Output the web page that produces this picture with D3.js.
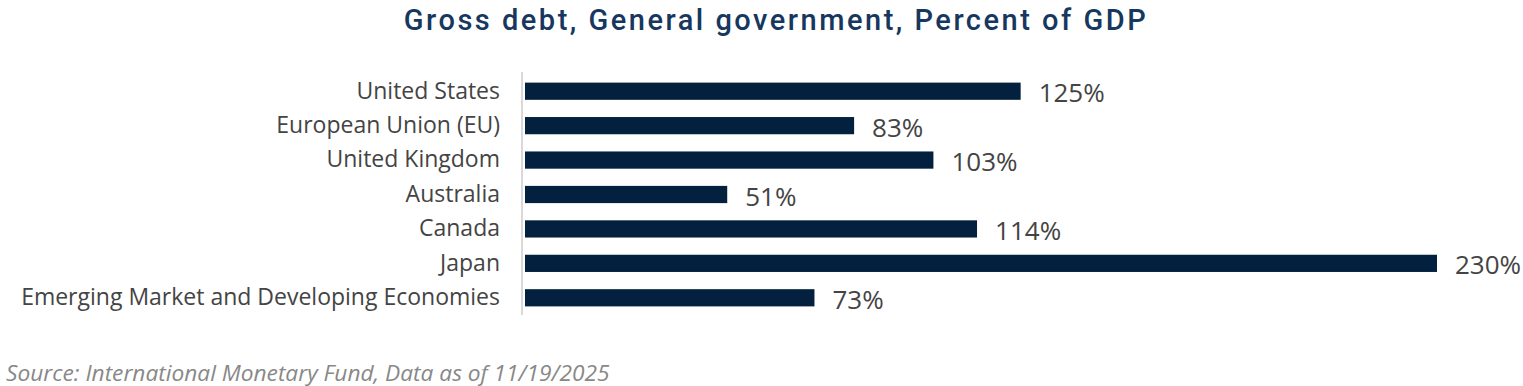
<!DOCTYPE html>
<html>
<head>
<meta charset="utf-8">
<script src="https://cdn.jsdelivr.net/npm/d3@7"></script>
<style>
  body { margin: 0; background: #fff; }
  text { font-family: "Open Sans", sans-serif; }
</style>
</head>
<body>
<script>
//Chart data
const countries = ['United States', 'European Union (EU)', 'United Kingdom', 'Australia', 'Canada', 'Japan', 'Emerging Market and Developing Economies'];
const debtValues = [125, 83, 103, 51, 114, 230, 73];

const width = 1523;
const height = 386;

const margin = {
    top: 74,
    right: 86,
    bottom: 71,
    left: 525
};

const svg = d3.select('body').append('svg')
    .attr('width', width)
    .attr('height', height);

//Title
svg.append('text')
    .attr('x', 776)
    .attr('y', 30)
    .style('text-anchor', 'middle')
    .style('font-family', 'Roboto, sans-serif')
    .style('font-weight', 500)
    .style('font-size', '29px')
    .style('letter-spacing', '2.5px')
    .style('fill', '#17375e')
    .text('Gross debt, General government, Percent of GDP');

//Scales
let x = d3.scaleLinear()
    .domain([0, 230])
    .range([margin.left, 1437]);

let y = d3.scaleBand()
    .domain(countries)
    .range([margin.top, height - margin.bottom])
    .paddingInner(0.5)
    .paddingOuter(0.25);

//Category axis
let yAxis = d3.axisLeft(y).tickSize(0).tickPadding(22);

let axisG = svg.append('g')
    .attr('transform', `translate(${margin.left - 3}, 0)`)
    .call(yAxis);

axisG.select('.domain')
    .attr('d', `M0,${margin.top - 2}V${height - margin.bottom}`)
    .style('stroke', '#d9d9d9')
    .style('stroke-width', 2);

axisG.selectAll('.tick text')
    .style('font-family', '"Open Sans", sans-serif')
    .style('font-size', '23px')
    .style('fill', '#444');

let data = countries.map((c, i) => ({ name: c, value: debtValues[i] }));

//Bars
svg.selectAll('rect.bar')
    .data(data)
    .enter()
    .append('rect')
    .attr('class', 'bar')
    .attr('x', x(0))
    .attr('y', d => y(d.name))
    .attr('width', d => x(d.value) - x(0))
    .attr('height', y.bandwidth())
    .style('fill', '#03213f');

//Value labels
svg.selectAll('text.valueLabel')
    .data(data)
    .enter()
    .append('text')
    .attr('class', 'valueLabel')
    .attr('x', d => x(d.value) + 18)
    .attr('y', d => y(d.name) + y.bandwidth() / 2 + 11)
    .style('font-size', '26px')
    .style('fill', '#444')
    .text(d => d.value + '%');

//Source
svg.append('text')
    .attr('x', 6)
    .attr('y', 381)
    .style('font-style', 'italic')
    .style('font-size', '22.7px')
    .style('fill', '#888')
    .text('Source: International Monetary Fund, Data as of 11/19/2025');
</script>
</body>
</html>
